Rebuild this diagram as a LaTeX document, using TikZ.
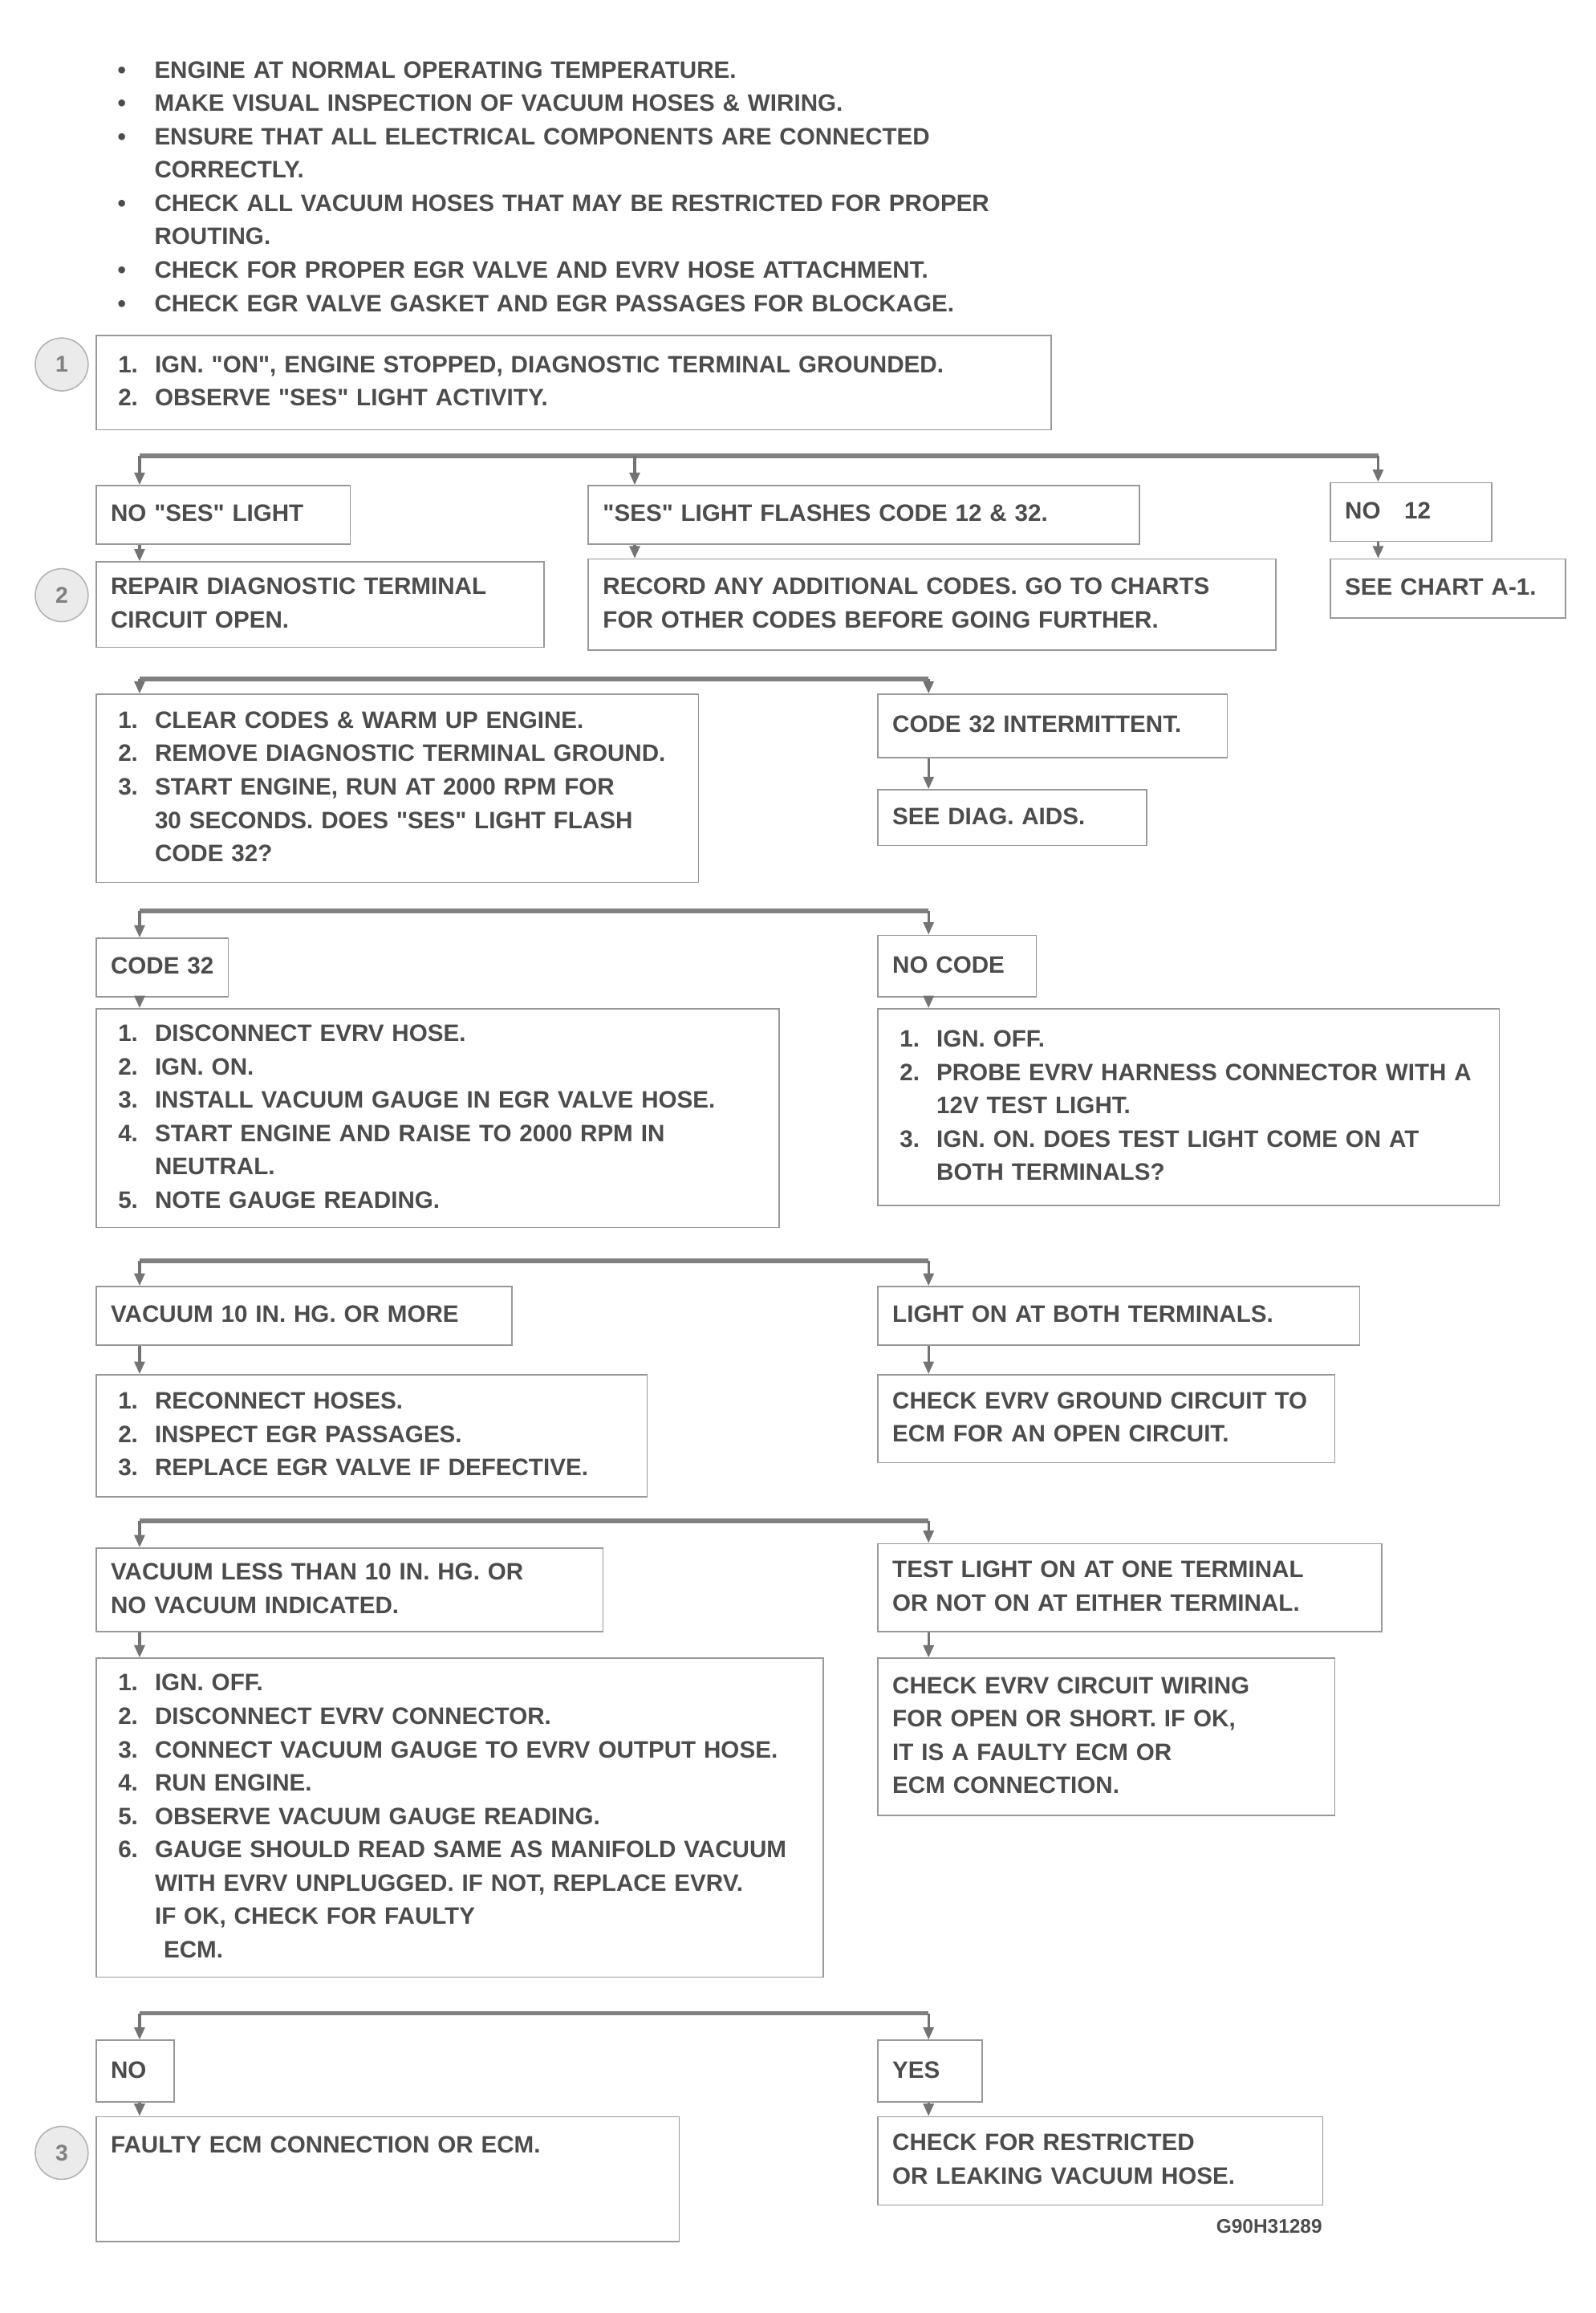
\documentclass[tikz,border=0pt]{standalone}
\usepackage{fontspec}
\setmainfont{Liberation Sans}[Ligatures=TeXOff]
\usetikzlibrary{arrows.meta}

\definecolor{chartgray}{gray}{0.3}
\newcommand{\bl}{\makebox[1.25cm][l]{\textbullet}}
\newcommand{\nm}[1]{\makebox[1.5cm][l]{\hspace{0.25cm}#1}}
\newcommand{\cnt}{\hspace*{1.5cm}}
\newcommand{\rows}[1]{\noindent\begin{tabular}{@{}l@{}}#1\end{tabular}}

\begin{document}
\begin{tikzpicture}[x=0.05cm, y=-0.05cm,
    box/.style={draw=black!40, line width=1.2pt, anchor=north west, align=left,
        inner xsep=0.5cm, inner ysep=0pt, text=chartgray,
        font=\fontsize{23}{32.3}\selectfont\bfseries},
    bar/.style={black!50, line width=4.5pt},
    arr/.style={black!55, line width=2.5pt, -{Triangle[width=10pt,length=12pt]}},
    refno/.style={circle, draw=black!30, fill=black!8, line width=1.2pt,
        minimum size=1.8cm, text=black!50, font=\fontsize{22}{26}\selectfont\bfseries}]

    \useasboundingbox (0,0) rectangle (1086,1574);

    % checks before starting
    \node[anchor=north west, inner sep=0pt, align=left, text width=32cm, text=chartgray,
        font=\fontsize{23}{32.3}\selectfont\bfseries] (prep) at (80,37) {\rows{%
        \bl ENGINE AT NORMAL OPERATING TEMPERATURE.\\
        \bl MAKE VISUAL INSPECTION OF VACUUM HOSES \& WIRING.\\
        \bl ENSURE THAT ALL ELECTRICAL COMPONENTS ARE CONNECTED\\
        \hspace*{1.25cm}CORRECTLY.\\
        \bl CHECK ALL VACUUM HOSES THAT MAY BE RESTRICTED FOR PROPER\\
        \hspace*{1.25cm}ROUTING.\\
        \bl CHECK FOR PROPER EGR VALVE AND EVRV HOSE ATTACHMENT.\\
        \bl CHECK EGR VALVE GASKET AND EGR PASSAGES FOR BLOCKAGE.}};

    \node[box, text width=31.5cm, minimum height=3.2cm] (start) at (65,228) {\rows{%
        \nm{1.}IGN. "ON", ENGINE STOPPED, DIAGNOSTIC TERMINAL GROUNDED.\\
        \nm{2.}OBSERVE "SES" LIGHT ACTIVITY.}};
    \node[refno] (c1) at (42,248) {1};

    % first split
    \node[box, text width=7.65cm, minimum height=2cm] (noses) at (65,330) {\rows{NO "SES" LIGHT}};
    \node[box, text width=14.25cm, minimum height=2.9cm] (repdiag) at (65,382) {\rows{%
        REPAIR DIAGNOSTIC TERMINAL\\ CIRCUIT OPEN.}};
    \node[refno] (c2) at (42,405) {2};
    \node[box, text width=17.75cm, minimum height=2cm] (flash) at (400,330) {\rows{%
        "SES" LIGHT FLASHES CODE 12 \& 32.}};
    \node[box, text width=22.4cm, minimum height=3.1cm] (record) at (400,380) {\rows{%
        RECORD ANY ADDITIONAL CODES. GO TO CHARTS\\ FOR OTHER CODES BEFORE GOING FURTHER.}};
    \node[box, text width=4.5cm, minimum height=2cm] (nocode) at (905,328) {\rows{NO\quad 12}};
    \node[box, text width=7cm, minimum height=2cm] (chart) at (905,380) {\rows{SEE CHART A-1.}};

    \coordinate (b1l) at (95,310);
    \coordinate (b1m) at (432,310);
    \coordinate (b1r) at (938,310);
    \draw[bar] (b1l) -- (b1r);
    \draw[arr] (b1l) -- (b1l |- noses.north);
    \draw[arr] (b1m) -- (b1m |- flash.north);
    \draw[arr] (b1r) -- (b1r |- nocode.north);
    \draw[arr] (noses.south -| b1l) -- (repdiag.north -| b1l);
    \draw[arr] (flash.south -| b1m) -- (record.north -| b1m);
    \draw[arr] (nocode.south -| b1r) -- (chart.north -| b1r);

    % second split
    \node[box, text width=19.5cm, minimum height=6.4cm] (clear) at (65,472) {\rows{%
        \nm{1.}CLEAR CODES \& WARM UP ENGINE.\\
        \nm{2.}REMOVE DIAGNOSTIC TERMINAL GROUND.\\
        \nm{3.}START ENGINE, RUN AT 2000 RPM FOR\\
        \cnt 30 SECONDS. DOES "SES" LIGHT FLASH\\
        \cnt CODE 32?}};
    \node[box, text width=10.9cm, minimum height=2.15cm] (interm) at (597,472) {\rows{CODE 32 INTERMITTENT.}};
    \node[box, text width=8.15cm, minimum height=1.9cm] (aids) at (597,537) {\rows{SEE DIAG. AIDS.}};

    \coordinate (b2l) at (95,462);
    \coordinate (b2r) at (632,462);
    \draw[bar] (b2l) -- (b2r);
    \draw[arr] (b2l) -- (b2l |- clear.north);
    \draw[arr] (b2r) -- (b2r |- interm.north);
    \draw[arr] (interm.south -| b2r) -- (aids.north -| b2r);

    % third split
    \node[box, text width=3.5cm, minimum height=2cm] (code) at (65,638) {\rows{CODE 32}};
    \node[box, text width=22.25cm, minimum height=7.45cm] (vactest) at (65,686) {\rows{%
        \nm{1.}DISCONNECT EVRV HOSE.\\
        \nm{2.}IGN. ON.\\
        \nm{3.}INSTALL VACUUM GAUGE IN EGR VALVE HOSE.\\
        \nm{4.}START ENGINE AND RAISE TO 2000 RPM IN\\
        \cnt NEUTRAL.\\
        \nm{5.}NOTE GAUGE READING.}};
    \node[box, text width=4.4cm, minimum height=2.1cm] (nocodeb) at (597,636) {\rows{NO CODE}};
    \node[box, text width=20.15cm, minimum height=6.7cm] (probe) at (597,686) {\rows{%
        \nm{1.}IGN. OFF.\\
        \nm{2.}PROBE EVRV HARNESS CONNECTOR WITH A\\
        \cnt 12V TEST LIGHT.\\
        \nm{3.}IGN. ON. DOES TEST LIGHT COME ON AT\\
        \cnt BOTH TERMINALS?}};

    \coordinate (b3l) at (95,620);
    \coordinate (b3r) at (632,620);
    \draw[bar] (b3l) -- (b3r);
    \draw[arr] (b3l) -- (b3l |- code.north);
    \draw[arr] (b3r) -- (b3r |- nocodeb.north);
    \draw[arr] (code.south -| b3l) -- (vactest.north -| b3l);
    \draw[arr] (nocodeb.south -| b3r) -- (probe.north -| b3r);

    % fourth split
    \node[box, text width=13.15cm, minimum height=2cm] (vacok) at (65,875) {\rows{VACUUM 10 IN. HG. OR MORE}};
    \node[box, text width=17.75cm, minimum height=4.15cm] (egr) at (65,935) {\rows{%
        \nm{1.}RECONNECT HOSES.\\
        \nm{2.}INSPECT EGR PASSAGES.\\
        \nm{3.}REPLACE EGR VALVE IF DEFECTIVE.}};
    \node[box, text width=15.4cm, minimum height=2cm] (bothon) at (597,875) {\rows{LIGHT ON AT BOTH TERMINALS.}};
    \node[box, text width=14.55cm, minimum height=3cm] (ckopen) at (597,935) {\rows{%
        CHECK EVRV GROUND CIRCUIT TO\\ ECM FOR AN OPEN CIRCUIT.}};

    \coordinate (b4l) at (95,858);
    \coordinate (b4r) at (632,858);
    \draw[bar] (b4l) -- (b4r);
    \draw[arr] (b4l) -- (b4l |- vacok.north);
    \draw[arr] (b4r) -- (b4r |- bothon.north);
    \draw[arr] (vacok.south -| b4l) -- (egr.north -| b4l);
    \draw[arr] (bothon.south -| b4r) -- (ckopen.north -| b4r);

    % fifth split
    \node[box, text width=16.25cm, minimum height=2.85cm] (vaclow) at (65,1053) {\rows{%
        VACUUM LESS THAN 10 IN. HG. OR\\ NO VACUUM INDICATED.}};
    \node[box, text width=23.75cm, minimum height=10.85cm] (evrv) at (65,1128) {\rows{%
        \nm{1.}IGN. OFF.\\
        \nm{2.}DISCONNECT EVRV CONNECTOR.\\
        \nm{3.}CONNECT VACUUM GAUGE TO EVRV OUTPUT HOSE.\\
        \nm{4.}RUN ENGINE.\\
        \nm{5.}OBSERVE VACUUM GAUGE READING.\\
        \nm{6.}GAUGE SHOULD READ SAME AS MANIFOLD VACUUM\\
        \cnt WITH EVRV UNPLUGGED. IF NOT, REPLACE EVRV.\\
        \cnt IF OK, CHECK FOR FAULTY\\
        \cnt\hspace{0.3cm}ECM.}};
    \node[box, text width=16.15cm, minimum height=3cm] (oneon) at (597,1050) {\rows{%
        TEST LIGHT ON AT ONE TERMINAL\\ OR NOT ON AT EITHER TERMINAL.}};
    \node[box, text width=14.55cm, minimum height=5.35cm] (ckwire) at (597,1128) {\rows{%
        CHECK EVRV CIRCUIT WIRING\\ FOR OPEN OR SHORT. IF OK,\\ IT IS A FAULTY ECM OR\\ ECM CONNECTION.}};

    \coordinate (b5l) at (95,1035);
    \coordinate (b5r) at (632,1035);
    \draw[bar] (b5l) -- (b5r);
    \draw[arr] (b5l) -- (b5l |- vaclow.north);
    \draw[arr] (b5r) -- (b5r |- oneon.north);
    \draw[arr] (vaclow.south -| b5l) -- (evrv.north -| b5l);
    \draw[arr] (oneon.south -| b5r) -- (ckwire.north -| b5r);

    % last split
    \node[box, text width=1.65cm, minimum height=2.1cm] (no) at (65,1388) {\rows{NO}};
    \node[box, text width=18.85cm, minimum height=4.25cm] (ecm) at (65,1440) {\rows{%
        FAULTY ECM CONNECTION OR ECM.\\ \mbox{}\\ \mbox{}}};
    \node[refno] (c3) at (42,1465) {3};
    \node[box, text width=2.55cm, minimum height=2.1cm] (yes) at (597,1388) {\rows{YES}};
    \node[box, text width=14.15cm, minimum height=3cm] (hose) at (597,1440) {\rows{%
        CHECK FOR RESTRICTED\\ OR LEAKING VACUUM HOSE.}};
    \node[anchor=east, inner sep=0pt, text=chartgray,
        font=\fontsize{19}{22}\selectfont\bfseries] (figref) at (900,1515) {G90H31289};

    \coordinate (b6l) at (95,1370);
    \coordinate (b6r) at (632,1370);
    \draw[bar] (b6l) -- (b6r);
    \draw[arr] (b6l) -- (b6l |- no.north);
    \draw[arr] (b6r) -- (b6r |- yes.north);
    \draw[arr] (no.south -| b6l) -- (ecm.north -| b6l);
    \draw[arr] (yes.south -| b6r) -- (hose.north -| b6r);
\end{tikzpicture}
\end{document}
